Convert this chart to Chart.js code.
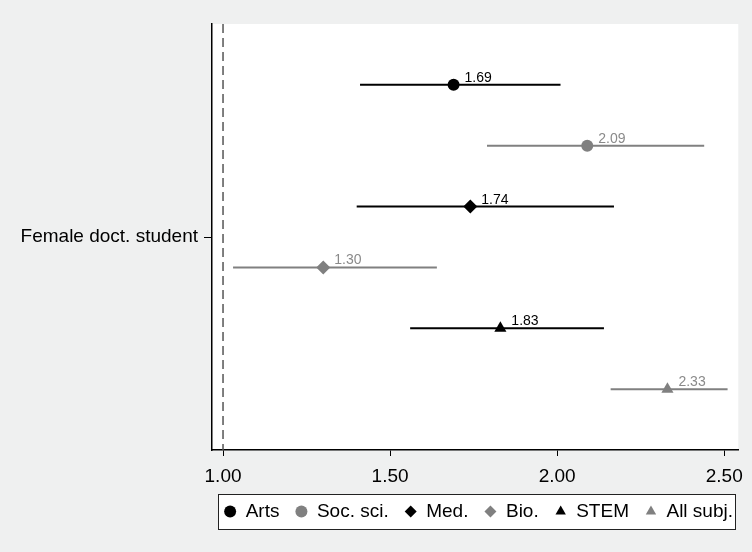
<!DOCTYPE html>
<html>
<head>
<meta charset="utf-8">
<script src="https://cdn.jsdelivr.net/npm/chart.js@4/dist/chart.umd.min.js"></script>
<style>
  html, body { margin: 0; padding: 0; background: #eff0f0; }
  #wrap { width: 752px; height: 552px; }
</style>
</head>
<body>
<div id="wrap"><canvas id="c" width="752" height="552"></canvas></div>
<script>
// ---- data ----
const categories = ['Arts', 'Soc. sci.', 'Med.', 'Bio.', 'STEM', 'All subj.'];
const estimates  = [1.69, 2.09, 1.74, 1.30, 1.83, 2.33];
const ciLow      = [1.41, 1.79, 1.40, 1.03, 1.56, 2.16];
const ciHigh     = [2.01, 2.44, 2.17, 1.64, 2.14, 2.51];
const rowLabel   = 'Female doct. student';
const xTickValues = [1.00, 1.50, 2.00, 2.50];
const referenceValue = 1.00;

// ---- styles ----
const BLACK = '#000000', GRAY = '#808080', GRAY_TXT = '#8a8a8a';
const colors = [BLACK, GRAY, BLACK, GRAY, BLACK, GRAY];
const textColors = [BLACK, GRAY_TXT, BLACK, GRAY_TXT, BLACK, GRAY_TXT];
const shapes = ['circle', 'circle', 'rectRot', 'rectRot', 'triangle', 'triangle'];
const radii = [6, 6, 7, 7, 7, 7];
const FONT = "'Liberation Sans', Arial, sans-serif";
const nRows = categories.length;
const LEGEND_SHIFT = 7;

const datasets = [];
categories.forEach((cat, i) => {
  datasets.push({
    label: cat,
    type: 'scatter',
    data: [{ x: estimates[i], y: i + 1 }],
    pointStyle: shapes[i],
    pointRadius: radii[i],
    pointHoverRadius: radii[i],
    backgroundColor: colors[i],
    borderColor: colors[i],
    borderWidth: 0,
    order: 0,
    isMarker: true,
    valueColor: textColors[i]
  });
});
categories.forEach((cat, i) => {
  datasets.push({
    label: cat + ' CI',
    type: 'line',
    data: [{ x: ciLow[i], y: i + 1 }, { x: ciHigh[i], y: i + 1 }],
    borderColor: colors[i],
    borderWidth: 2,
    pointRadius: 0,
    fill: false,
    order: 1
  });
});
datasets.push({
  label: 'ref',
  type: 'line',
  data: [{ x: referenceValue, y: 0 }, { x: referenceValue, y: nRows + 1 }],
  borderColor: '#555555',
  borderWidth: 1.5,
  borderDash: [9, 5],
  pointRadius: 0,
  fill: false,
  order: 2
});

const bgPlugin = {
  id: 'bg',
  beforeDraw(chart) {
    const { ctx, chartArea: a } = chart;
    ctx.save();
    ctx.fillStyle = '#eff0f0';
    ctx.fillRect(0, 0, chart.width, chart.height);
    ctx.fillStyle = '#ffffff';
    ctx.fillRect(a.left, a.top, a.right - a.left, a.bottom - a.top);
    ctx.restore();
  }
};

const valueLabels = {
  id: 'valueLabels',
  afterDatasetsDraw(chart) {
    const ctx = chart.ctx;
    ctx.save();
    ctx.font = '14px ' + FONT;
    ctx.textAlign = 'left';
    ctx.textBaseline = 'alphabetic';
    chart.data.datasets.forEach((ds, di) => {
      if (!ds.isMarker) return;
      const meta = chart.getDatasetMeta(di);
      meta.data.forEach((pt, k) => {
        ctx.fillStyle = ds.valueColor;
        ctx.fillText(ds.data[k].x.toFixed(2), pt.x + 11, pt.y - 3);
      });
    });
    ctx.restore();
  }
};

function legendBounds(chart) {
  const lg = chart.legend;
  if (!lg || !lg.legendHitBoxes || !lg.legendHitBoxes.length) return null;
  let l = Infinity, r = -Infinity, t = Infinity, b = -Infinity;
  lg.legendHitBoxes.forEach(h => { l = Math.min(l, h.left); r = Math.max(r, h.left + h.width); t = Math.min(t, h.top); b = Math.max(b, h.top + h.height); });
  return { x: Math.round(l - 6), y: Math.round(t - 8), w: Math.round(r - l + 8), h: Math.round(b - t + 16) };
}

const legendBox = {
  id: 'legendBox',
  afterLayout(chart) {
    const lg = chart.legend;
    if (lg) { lg.left += LEGEND_SHIFT; lg.right += LEGEND_SHIFT; }
  },
  beforeDraw(chart) {
    const bb = legendBounds(chart); if (!bb) return;
    const ctx = chart.ctx;
    ctx.save();
    ctx.fillStyle = '#ffffff';
    ctx.fillRect(bb.x, bb.y, bb.w, bb.h);
    ctx.restore();
  },
  afterDraw(chart) {
    const bb = legendBounds(chart); if (!bb) return;
    const ctx = chart.ctx;
    ctx.save();
    ctx.strokeStyle = '#222';
    ctx.lineWidth = 1;
    ctx.strokeRect(bb.x + 0.5, bb.y + 0.5, bb.w, bb.h);
    ctx.restore();
  }
};

new Chart(document.getElementById('c'), {
  type: 'scatter',
  data: { datasets },
  plugins: [bgPlugin, valueLabels, legendBox],
  options: {
    responsive: false,
    animation: false,
    layout: { autoPadding: false, padding: { left: 0, right: 10, top: 24, bottom: 21 } },
    plugins: {
      tooltip: { enabled: false },
      legend: {
        position: 'bottom',
        align: 'end',
        labels: {
          filter: (item, data) => data.datasets[item.datasetIndex].isMarker,
          usePointStyle: true,
          boxHeight: 8.5,
          pointStyleWidth: 12,
          padding: 16,
          color: '#000',
          font: { family: FONT, size: 19 }
        }
      }
    },
    scales: {
      x: {
        type: 'linear',
        min: 0.967,
        max: 2.542,
        afterBuildTicks: (s) => { s.ticks = xTickValues.map(v => ({ value: v })); },
        afterFit: (s) => { s.height = 36; },
        ticks: {
          callback: (v) => Number(v).toFixed(2),
          color: '#000',
          font: { family: FONT, size: 19 },
          padding: 9,
          maxRotation: 0
        },
        grid: { drawOnChartArea: false, drawTicks: true, tickLength: 6, color: '#000', lineWidth: 1 },
        border: { display: true, color: '#000', width: 1.5 }
      },
      y: {
        type: 'linear',
        min: 0,
        max: nRows + 1,
        reverse: true,
        afterBuildTicks: (s) => { s.ticks = [{ value: (nRows + 1) / 2 }]; },
        afterFit: (s) => { s.width = 212; },
        ticks: {
          callback: () => rowLabel,
          color: '#000',
          font: { family: FONT, size: 19 },
          padding: 6
        },
        grid: { drawOnChartArea: false, drawTicks: true, tickLength: 8, color: '#000', lineWidth: 1 },
        border: { display: true, color: '#000', width: 1.5 }
      }
    }
  }
});
</script>
</body>
</html>
